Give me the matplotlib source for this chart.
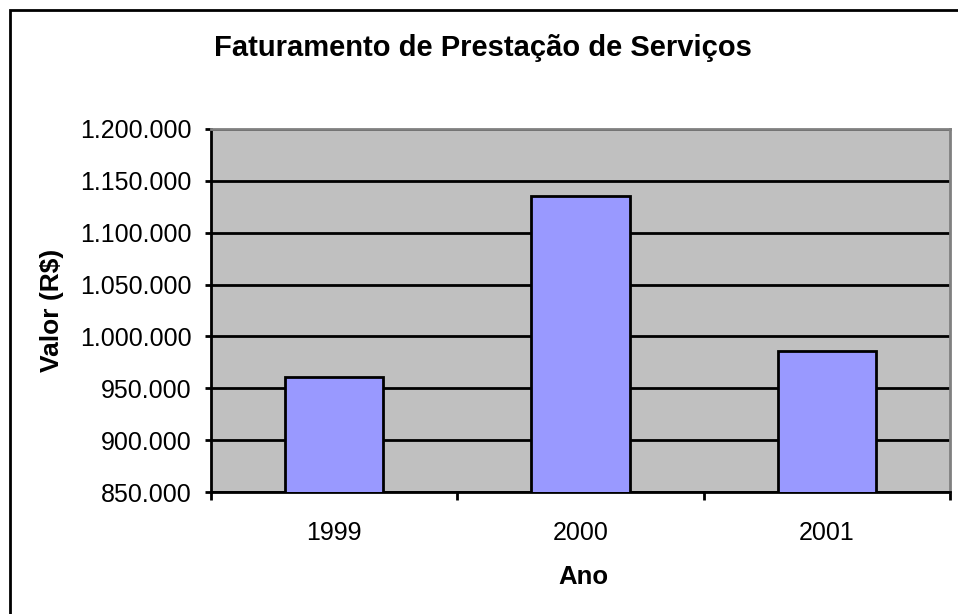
import matplotlib
matplotlib.use("Agg")
import matplotlib.pyplot as plt
from matplotlib.patches import Rectangle
from matplotlib.ticker import FuncFormatter

# data
anos = ["1999", "2000", "2001"]
valores = [961000, 1135500, 985500]
y_ticks = [850000, 900000, 950000, 1000000, 1050000, 1100000, 1150000, 1200000]

plt.rcParams["font.family"] = ["Liberation Sans", "DejaVu Sans"]

W, H = 958, 614
fig = plt.figure(figsize=(W / 100, H / 100), dpi=100)
fig.patch.set_facecolor("white")

# plot area in pixels: left 211, right 950, top 129, bottom 492
ax = fig.add_axes([211 / W, 1 - 492 / H, (950 - 211) / W, (492 - 129) / H])
ax.set_facecolor("#C0C0C0")

x = list(range(len(anos)))
ax.bar(x, valores, width=0.4, color="#9999FF", edgecolor="black", linewidth=2, zorder=3)

ax.set_xlim(-0.5, len(anos) - 0.5)
ax.set_ylim(y_ticks[0], y_ticks[-1])
ax.set_yticks(y_ticks)
ax.yaxis.set_major_formatter(FuncFormatter(lambda v, p: f"{int(v):,}".replace(",", ".")))
ax.grid(axis="y", color="black", linewidth=2, zorder=1)
ax.set_axisbelow(True)

# category boundaries get the tick marks, labels sit in the middle
ax.set_xticks([i - 0.5 for i in range(len(anos) + 1)])
ax.set_xticklabels([])
ax.set_xticks(x, minor=True)
ax.set_xticklabels(anos, minor=True)
ax.tick_params(axis="x", which="major", direction="out", length=6, width=2)
ax.tick_params(axis="x", which="minor", length=0, pad=21, labelsize=18)
ax.tick_params(axis="y", direction="out", length=4, width=2, pad=10, labelsize=18)

for side in ["left", "bottom"]:
    ax.spines[side].set_color("black")
    ax.spines[side].set_linewidth(2)
for side in ["top", "right"]:
    ax.spines[side].set_color("#808080")
    ax.spines[side].set_linewidth(2)

fig.text(483 / W, 1 - 48 / H, "Faturamento de Prestação de Serviços",
         ha="center", va="center", fontsize=21, fontweight="bold")
fig.text(583 / W, 1 - 577 / H, "Ano", ha="center", va="center",
         fontsize=18.5, fontweight="bold")
fig.text(52 / W, 1 - 310 / H, "Valor (R$)", ha="center", va="center",
         rotation=90, fontsize=19, fontweight="bold")

# outer chart frame, right and bottom edges fall outside the picture
fig.add_artist(Rectangle((10 / W, -0.1), 1.2, 1.1 - 10 / H, transform=fig.transFigure,
                         fill=False, edgecolor="black", linewidth=2))

fig.savefig("out.png", dpi=100)
